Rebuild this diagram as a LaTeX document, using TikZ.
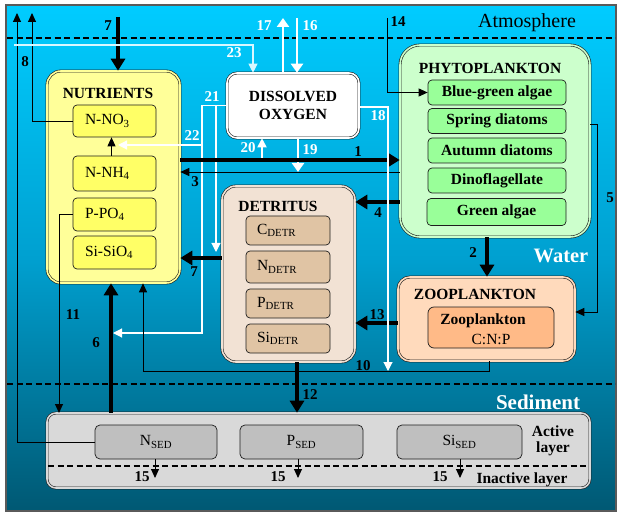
\documentclass[tikz,border=0pt]{standalone}
\usepackage{fontspec}
\setmainfont{Liberation Serif}
\usetikzlibrary{arrows.meta,calc}
\definecolor{bgtop}{RGB}{0,204,255}
\definecolor{bgmid}{RGB}{0,160,208}
\definecolor{bgbot}{RGB}{0,88,115}
\definecolor{nutfill}{RGB}{255,255,153}
\definecolor{nutsub}{RGB}{255,255,102}
\definecolor{phyfill}{RGB}{204,255,204}
\definecolor{physub}{RGB}{153,255,153}
\definecolor{detfill}{RGB}{242,226,212}
\definecolor{detsub}{RGB}{224,196,164}
\definecolor{zoofill}{RGB}{255,218,188}
\definecolor{zoosub}{RGB}{255,186,135}
\definecolor{sedfill}{RGB}{217,217,217}
\definecolor{sedsub}{RGB}{191,191,191}
\definecolor{edgec}{RGB}{30,30,30}
\definecolor{framec}{RGB}{90,90,90}
\begin{document}
\begin{tikzpicture}[x=1pt,y=-1pt,
  bigbox/.style={draw=edgec, line width=0.6pt, double=#1, double distance=1.6pt, fill=#1, rounded corners=14pt, inner sep=0pt},
  subbox/.style={draw=edgec, line width=0.7pt, fill=#1, rounded corners=4pt, inner sep=0pt},
  ttl/.style={font=\bfseries\fontsize{15.5}{17}\selectfont, inner sep=0pt},
  reg/.style={font=\fontsize{15.5}{17}\selectfont},
  num/.style={font=\bfseries\fontsize{15}{16}\selectfont, inner sep=0pt},
  wnum/.style={num, text=white},
  thickarr/.style={line width=3.6pt, -{Triangle[length=12pt,width=14pt]}},
  thinarr/.style={draw=black, line width=0.9pt, -{Triangle[length=9pt,width=8pt]}},
  whitearr/.style={draw=white, line width=1.1pt, -{Triangle[length=9pt,width=9pt]}},
  whitethick/.style={draw=white, line width=2.8pt, -{Triangle[length=9pt,width=12pt]}},
  dashline/.style={line width=1.6pt, dash pattern=on 6pt off 3.5pt}
]
\useasboundingbox (0,0) rectangle (622,516);
\shade[top color=bgtop, bottom color=bgbot, middle color=bgmid] (6,5) rectangle (616,511);
\draw[framec, line width=1.6pt] (6,5) rectangle (616,511);

% layer boundaries
\coordinate (atmL) at (7,38); \coordinate (atmR) at (615,38);
\draw[dashline] (atmL) -- (atmR);
\coordinate (sedL) at (7,384); \coordinate (sedR) at (615,384);
\draw[dashline] (sedL) -- (sedR);

\node[font=\fontsize{20}{22}\selectfont, anchor=base] (atm) at (527,28) {Atmosphere};
\node[font=\bfseries\fontsize{20.5}{22}\selectfont, text=white] (water) at (561,256) {Water};
\node[font=\bfseries\fontsize{21}{22}\selectfont, text=white] (sedlbl) at (538,402) {Sediment};

% NUTRIENTS
\node[bigbox=nutfill, minimum width=133pt, minimum height=212pt] (nut) at (113.5,177) {};
\node[ttl] (nutt) at (108,93) {NUTRIENTS};
\node[subbox=nutsub, reg, minimum width=83pt, minimum height=32pt, text width=59pt, inner xsep=12pt, align=left] (no3) at (114.5,121) {N-NO\textsubscript{3}};
\node[subbox=nutsub, reg, minimum width=83pt, minimum height=35pt, text width=59pt, inner xsep=12pt, align=left] (nh4) at (114.5,173.5) {N-NH\textsubscript{4}};
\node[subbox=nutsub, reg, minimum width=83pt, minimum height=33pt, text width=59pt, inner xsep=12pt, align=left] (po4) at (114.5,214.5) {P-PO\textsubscript{4}};
\node[subbox=nutsub, reg, minimum width=83pt, minimum height=33pt, text width=59pt, inner xsep=12pt, align=left] (sio4) at (114.5,252.5) {Si-SiO\textsubscript{4}};

% DISSOLVED OXYGEN
\node[bigbox=white, rounded corners=10pt, minimum width=132pt, minimum height=65pt, ttl, align=center, font=\bfseries\fontsize{15.5}{18}\selectfont] (do) at (293,105.5) {DISSOLVED\\OXYGEN};

% PHYTOPLANKTON
\node[bigbox=phyfill, rounded corners=20pt, minimum width=190pt, minimum height=192pt] (phy) at (495,141) {};
\node[ttl] (phyt) at (490,68) {PHYTOPLANKTON};
\node[subbox=physub, ttl, minimum width=138pt, minimum height=25pt] (bg) at (497,92.5) {Blue-green algae};
\node[subbox=physub, ttl, minimum width=138pt, minimum height=25pt] (spr) at (497,121) {Spring diatoms};
\node[subbox=physub, ttl, minimum width=138pt, minimum height=25pt] (aut) at (497,150.5) {Autumn diatoms};
\node[subbox=physub, ttl, minimum width=138pt, minimum height=25pt] (dino) at (497,180.5) {Dinoflagellate};
\node[subbox=physub, ttl, minimum width=139pt, minimum height=27pt] (green) at (496.5,212) {Green algae};

% DETRITUS
\node[bigbox=detfill, minimum width=133pt, minimum height=176pt] (det) at (288.5,274) {};
\node[ttl] (dett) at (278,206) {DETRITUS};
\node[subbox=detsub, reg, minimum width=84pt, minimum height=29pt, text width=62pt, inner xsep=11pt, align=left] (cdet) at (288,230.5) {C\textsubscript{DETR}};
\node[subbox=detsub, reg, minimum width=84pt, minimum height=32pt, text width=62pt, inner xsep=11pt, align=left] (ndet) at (288,267) {N\textsubscript{DETR}};
\node[subbox=detsub, reg, minimum width=84pt, minimum height=29pt, text width=62pt, inner xsep=11pt, align=left] (pdet) at (288,303.5) {P\textsubscript{DETR}};
\node[subbox=detsub, reg, minimum width=84pt, minimum height=29pt, text width=62pt, inner xsep=11pt, align=left] (sidet) at (288,338.5) {Si\textsubscript{DETR}};

% ZOOPLANKTON
\node[bigbox=zoofill, rounded corners=12pt, minimum width=177pt, minimum height=84pt] (zoo) at (486.5,319) {};
\node[ttl] (zoot) at (475,294) {ZOOPLANKTON};
\node[subbox=zoosub, rounded corners=6pt, minimum width=126pt, minimum height=41pt] (zin) at (491,327.5) {};
\node[ttl] (zint) at (483,321) {Zooplankton};
\node[reg, inner sep=0pt] (zcnp) at (491,339.5) {C:N:P};

% SEDIMENT
\node[bigbox=sedfill, rounded corners=9pt, minimum width=543pt, minimum height=75pt] (sed) at (318.5,450.5) {};
\coordinate (sdL) at (48,466); \coordinate (sdR) at (589,466);
\draw[line width=1.4pt, dash pattern=on 6pt off 3.5pt] (sdL) -- (sdR);
\node[subbox=sedsub, reg, rounded corners=5pt, minimum width=122pt, minimum height=34pt] (nsed) at (156,442) {N\textsubscript{SED}};
\node[subbox=sedsub, reg, rounded corners=5pt, minimum width=123pt, minimum height=34pt] (psed) at (301.5,442) {P\textsubscript{SED}};
\node[subbox=sedsub, reg, rounded corners=5pt, minimum width=125pt, minimum height=34pt] (sised) at (459.5,442) {Si\textsubscript{SED}};
\node[ttl, align=center, font=\bfseries\fontsize{15.5}{16}\selectfont] (act) at (553,441) {Active\\layer};
\node[ttl, anchor=base] (inact) at (522,483) {Inactive layer};

% ---- connectors ----
% 8 and sediment N loss to atmosphere
\coordinate (t8) at (32,13);
\draw[thinarr] (no3.west) -| (t8);
\coordinate (tns) at (17,13);
\draw[thinarr] (nsed.west) -| (tns);
% 7 atmospheric deposition
\coordinate (s7) at (118,17);
\draw[thickarr] (s7) -- (s7 |- nut.north);
% 23
\coordinate (s23) at (14,45);
\coordinate (e23) at ([xshift=-40pt]do.north);
\draw[whitearr, draw=white!85!bgtop] (s23) -| (e23);
% 17 / 16
\coordinate (t17) at (283,18);
\draw[whitethick] ([xshift=-10pt]do.north) -- (t17);
\coordinate (s16) at (297,18);
\draw[whitethick] (s16) -- (s16 |- do.north);
% 20 / 19
\coordinate (s20) at (262,160);
\draw[whitearr, line width=1.8pt] (s20) -- (s20 |- do.south);
\coordinate (t19) at (298,172);
\draw[whitethick] (t19 |- do.south) -- (t19);
% 21
\coordinate (t21) at (216,252);
\draw[whitearr] (do.west) -| (t21);
% 22 and oxygen to 6
\coordinate (c6w) at (202,333);
\coordinate (t6w) at (113,333);
\draw[whitearr] (do.west) -| (c6w) -- (t6w);
\coordinate (j22) at (202,145);
\coordinate (t22) at (118,145);
\draw[whitearr] (j22) -- (t22);
% NH4 -> NO3
\draw[thinarr] ([xshift=-3pt]nh4.north) -- ([xshift=-3pt]no3.south);
% 1
\coordinate (y1) at (300,160);
\draw[thickarr] (nut.east |- y1) -- (phy.west |- y1);
% 3
\coordinate (y3) at (300,172);
\draw[thinarr] (phy.west |- y3) -- (nut.east |- y3);
% 7 detritus -> nutrients
\coordinate (y7) at (200,258);
\draw[thickarr] (det.west |- y7) -- (nut.east |- y7);
% 4
\coordinate (y4) at (380,202);
\draw[thickarr] (phy.west |- y4) -- (det.east |- y4);
% 13
\coordinate (y13) at (380,323);
\draw[thickarr] (zoo.west |- y13) -- (det.east |- y13);
% 10
\coordinate (x10) at (489,371);
\coordinate (c10) at (143,371);
\draw[thinarr] (x10 |- zoo.south) -- (x10) -- (c10) -- (c10 |- nut.south);
% 18
\coordinate (y18) at (370,107);
\coordinate (t18) at (388,371);
\draw[whitearr] (do.east |- y18) -| (t18);
% 2
\coordinate (x2) at (487,250);
\draw[thickarr] (x2 |- phy.south) -- (x2 |- zoo.north);
% 5
\coordinate (y5) at (595,124);
\coordinate (c5) at (597,312);
\draw[thinarr] (phy.east |- y5) -| (c5) -- (zoo.east |- c5);
% 14
\coordinate (s14) at (387,18);
\draw[thinarr] (s14) |- (bg.west);
% 12
\coordinate (x12) at (297,390);
\draw[thickarr] (x12 |- det.south) -- (x12 |- sed.north);
% 11
\coordinate (c11) at (59,413);
\draw[thinarr] (po4.west) -| (c11);
% 6
\coordinate (x6) at (111,400);
\draw[thickarr] (x6 |- sed.north) -- (x6 |- nut.south);
% 15
\coordinate (t15a) at (155,478);
\coordinate (t15b) at (298,478);
\coordinate (t15c) at (460,478);
\draw[thinarr] (t15a |- nsed.south) -- (t15a);
\draw[thinarr] (t15b |- psed.south) -- (t15b);
\draw[thinarr] (t15c |- sised.south) -- (t15c);

% ---- labels ----
\node[num] (l8) at (25,62) {8};
\node[num] (l7a) at (108,26) {7};
\node[wnum] (l23) at (234,53) {23};
\node[wnum] (l17) at (264,26) {17};
\node[wnum] (l16) at (310,26) {16};
\node[num] (l14) at (398,22) {14};
\node[wnum] (l21) at (212,97) {21};
\node[wnum] (l22) at (192,136) {22};
\node[wnum] (l20) at (248,148) {20};
\node[wnum] (l19) at (310,150) {19};
\node[num] (l1) at (358,152) {1};
\node[wnum] (l18) at (378,116) {18};
\node[num] (l3) at (195,182) {3};
\node[num] (l4) at (378,213) {4};
\node[num] (l7b) at (194,272) {7};
\node[num] (l5) at (610,198) {5};
\node[num] (l2) at (473,253) {2};
\node[num] (l13) at (377,315) {13};
\node[num] (l11) at (73,315) {11};
\node[num] (l6) at (96,343) {6};
\node[num] (l10) at (363,366) {10};
\node[num] (l12) at (310,395) {12};
\node[num] (l15a) at (142,477) {15};
\node[num] (l15b) at (278,477) {15};
\node[num] (l15c) at (440,477) {15};
\end{tikzpicture}
\end{document}
